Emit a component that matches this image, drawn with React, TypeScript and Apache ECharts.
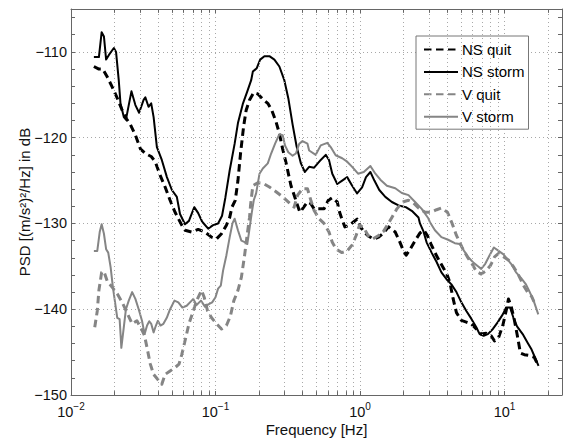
import React, { useEffect, useRef } from 'react';
import * as echarts from 'echarts';

// [frequency in Hz, PSD in dB]
const nsQuit: [number, number][] = [
  [0.0144, -111.7], [0.0156, -112.0], [0.0166, -112.0], [0.0178, -112.9], [0.0193, -114.1],
  [0.0209, -115.4], [0.0226, -116.8], [0.0242, -117.8], [0.0258, -118.5], [0.0279, -119.7],
  [0.0302, -121.3], [0.0327, -121.85], [0.0359, -122.2], [0.0383, -122.8], [0.0414, -124.4],
  [0.0448, -125.75], [0.0485, -127.3], [0.0525, -128.7], [0.0584, -130.2], [0.0615, -130.8],
  [0.0684, -131.0], [0.0759, -130.7], [0.0844, -131.0], [0.0939, -131.6], [0.1016, -131.8],
  [0.11, -131.2], [0.119, -130.2], [0.1254, -129.3], [0.13, -128.1], [0.137, -127.3],
  [0.143, -125.0], [0.149, -121.85], [0.1565, -118.7], [0.163, -116.8], [0.172, -115.6],
  [0.184, -114.75], [0.1963, -114.9], [0.2125, -115.5], [0.23, -116.0], [0.245, -116.8],
  [0.2624, -118.15], [0.2767, -119.5], [0.2915, -121.3], [0.3075, -122.9], [0.333, -125.6],
  [0.3565, -127.1], [0.3837, -128.7], [0.4, -128.3], [0.433, -127.5], [0.457, -127.7],
  [0.4814, -128.3], [0.5637, -128.3], [0.604, -127.3], [0.643, -127.0], [0.696, -127.5],
  [0.7227, -128.7], [0.753, -129.6], [0.786, -130.4], [0.847, -130.2], [0.906, -129.8],
  [0.955, -129.5], [1.008, -130.4], [1.079, -131.1], [1.15, -131.5], [1.245, -131.8],
  [1.346, -131.6], [1.4576, -131.1], [1.5776, -130.4], [1.754, -131.0], [1.869, -132.0],
  [2.0, -133.2], [2.087, -133.7], [2.223, -133.0], [2.406, -132.0], [2.604, -131.1],
  [2.775, -130.8], [2.924, -131.4], [3.1, -132.4], [3.3, -133.4], [3.575, -134.5],
  [3.81, -135.3], [4.03, -136.1], [4.19, -136.9], [4.414, -138.8], [4.65, -140.4],
  [5.03, -141.3], [5.445, -141.5], [5.89, -141.7], [6.38, -142.3], [6.9, -142.9],
  [7.47, -142.8], [8.09, -143.1], [8.53, -143.7], [9.1, -143.3], [9.73, -141.9],
  [10.26, -140.2], [10.65, -138.8], [11.1, -139.6], [11.72, -141.3], [12.34, -143.3],
  [12.88, -145.1], [13.72, -145.3], [14.85, -145.4], [16.07, -145.6], [16.94, -146.4],
];

const nsStorm: [number, number][] = [
  [0.0144, -110.6], [0.0156, -110.6], [0.0163, -107.7], [0.0169, -108.2], [0.0175, -110.9],
  [0.0183, -110.35], [0.0198, -109.55], [0.0205, -110.0], [0.0214, -113.3], [0.022, -116.0],
  [0.0232, -117.6], [0.024, -117.9], [0.0251, -116.2], [0.0262, -114.6], [0.0279, -116.2],
  [0.0296, -117.1], [0.0318, -115.6], [0.0327, -115.3], [0.0344, -116.4], [0.0359, -116.0],
  [0.0373, -117.6], [0.0393, -121.1], [0.0425, -122.6], [0.0461, -124.6], [0.0499, -126.1],
  [0.054, -126.9], [0.0568, -128.9], [0.0615, -130.1], [0.0655, -129.7], [0.0713, -128.1],
  [0.0759, -128.8], [0.0809, -129.8], [0.089, -130.6], [0.0963, -130.2], [0.1042, -130.0],
  [0.111, -129.1], [0.117, -127.0], [0.1254, -123.8], [0.1357, -120.7], [0.143, -118.3],
  [0.155, -116.0], [0.166, -114.6], [0.1766, -113.3], [0.1813, -112.3], [0.193, -111.9],
  [0.2037, -110.9], [0.218, -110.5], [0.236, -110.5], [0.2556, -110.9], [0.2767, -111.7],
  [0.2994, -113.3], [0.319, -115.4], [0.342, -118.5], [0.364, -121.0], [0.39, -123.0],
  [0.4155, -124.0], [0.4447, -123.4], [0.4814, -123.5], [0.535, -122.6], [0.5794, -122.0],
  [0.61, -122.6], [0.643, -124.2], [0.696, -125.4], [0.753, -125.0], [0.815, -124.6],
  [0.883, -125.6], [0.955, -126.5], [1.034, -125.8], [1.1, -124.6], [1.18, -124.0],
  [1.2575, -125.0], [1.36, -126.1], [1.497, -126.9], [1.662, -127.5], [1.848, -127.9],
  [2.075, -128.1], [2.31, -128.6], [2.54, -129.3], [2.6, -130.0], [2.745, -130.9],
  [2.89, -132.2], [3.13, -133.4], [3.39, -134.5], [3.66, -135.7], [3.97, -136.5],
  [4.29, -137.1], [4.65, -138.0], [5.03, -139.2], [5.445, -140.2], [5.89, -141.1],
  [6.38, -142.1], [6.73, -142.9], [7.17, -143.1], [7.67, -142.9], [8.31, -142.3],
  [8.99, -141.5], [9.73, -140.6], [10.26, -139.8], [10.93, -139.8], [11.53, -141.0],
  [12.21, -142.0], [13.36, -142.9], [14.45, -143.9], [15.4, -144.7], [16.23, -145.6],
  [17.2, -146.6],
];

const vQuit: [number, number][] = [
  [0.0146, -142.1], [0.0152, -140.2], [0.0156, -137.8], [0.0163, -135.7], [0.0169, -135.6],
  [0.0178, -136.7], [0.0193, -137.45], [0.0209, -138.2], [0.0226, -139.2], [0.0244, -140.4],
  [0.0265, -141.7], [0.0286, -141.35], [0.0307, -142.3], [0.0323, -143.1], [0.0336, -144.5],
  [0.0354, -146.4], [0.0373, -147.6], [0.0399, -148.2], [0.0425, -148.75], [0.0448, -147.6],
  [0.0485, -147.2], [0.0525, -146.8], [0.0559, -146.4], [0.0584, -145.3], [0.0615, -143.7],
  [0.0655, -141.7], [0.0702, -140.2], [0.074, -139.0], [0.0801, -137.8], [0.0835, -138.6],
  [0.0881, -140.2], [0.0939, -141.0], [0.1016, -141.7], [0.11, -142.3], [0.119, -141.9],
  [0.1268, -140.8], [0.134, -139.0], [0.143, -137.8], [0.151, -136.3], [0.159, -133.7],
  [0.166, -131.2], [0.172, -129.3], [0.175, -127.8], [0.1813, -125.6], [0.1963, -125.25],
  [0.2125, -125.3], [0.236, -125.75], [0.2624, -126.3], [0.2915, -126.9], [0.324, -127.6],
  [0.35, -128.1], [0.37, -126.7], [0.4, -125.95], [0.433, -125.95], [0.457, -127.3],
  [0.4814, -128.5], [0.521, -129.45], [0.5637, -130.0], [0.61, -131.0], [0.643, -132.2],
  [0.685, -133.0], [0.746, -133.4], [0.815, -133.2], [0.883, -132.5], [0.94, -131.4],
  [0.992, -130.2], [1.062, -130.5], [1.137, -131.4], [1.225, -131.8], [1.346, -131.4],
  [1.4576, -130.9], [1.56, -130.1], [1.662, -129.3], [1.8, -128.3], [1.968, -127.5],
  [2.166, -127.3], [2.344, -127.6], [2.54, -128.2], [2.82, -128.7], [3.1, -128.7],
  [3.39, -128.4], [3.66, -128.2], [4.03, -128.7], [4.34, -130.0], [4.65, -131.4],
  [5.09, -132.8], [5.53, -133.9], [5.96, -134.7], [6.38, -135.6], [6.9, -135.9],
  [7.47, -135.5], [8.0, -134.9], [8.53, -133.9], [9.1, -133.5], [9.89, -133.9],
  [10.7, -134.3], [11.6, -135.1], [12.48, -136.0], [13.57, -137.25], [14.45, -138.0],
  [15.4, -138.5], [16.07, -139.2],
];

const vStorm: [number, number][] = [
  [0.0144, -133.2], [0.0152, -133.2], [0.0158, -131.0], [0.0163, -130.1], [0.0169, -131.2],
  [0.0175, -133.0], [0.0181, -133.4], [0.0188, -135.1], [0.0195, -137.45], [0.0201, -139.0],
  [0.0209, -141.0], [0.0217, -141.15], [0.0221, -143.3], [0.0223, -144.5], [0.0232, -142.1],
  [0.024, -140.0], [0.0251, -139.0], [0.0265, -138.0], [0.0279, -138.8], [0.0294, -140.0],
  [0.031, -141.35], [0.0323, -142.9], [0.0336, -141.9], [0.0348, -141.4], [0.0359, -141.7],
  [0.0373, -142.7], [0.0387, -141.9], [0.0399, -141.35], [0.0416, -141.9], [0.0436, -141.7],
  [0.046, -141.0], [0.0485, -140.0], [0.052, -139.0], [0.0553, -139.2], [0.059, -139.8],
  [0.0632, -139.6], [0.0684, -139.0], [0.0702, -138.8], [0.074, -139.5], [0.0793, -139.0],
  [0.0845, -139.7], [0.09, -139.4], [0.0948, -139.2], [0.1, -138.6], [0.1042, -137.6],
  [0.1088, -137.25], [0.1128, -135.5], [0.119, -133.7], [0.1254, -131.6], [0.131, -130.0],
  [0.1357, -129.45], [0.143, -130.8], [0.151, -132.0], [0.1607, -132.2], [0.166, -132.4],
  [0.172, -130.6], [0.1784, -128.7], [0.184, -127.3], [0.191, -126.5], [0.2016, -124.2],
  [0.2125, -123.6], [0.23, -123.0], [0.2427, -121.85], [0.2585, -120.7], [0.2767, -119.6],
  [0.2915, -119.7], [0.3027, -120.9], [0.319, -121.7], [0.3416, -122.1], [0.36, -121.85],
  [0.38, -120.7], [0.4, -120.4], [0.433, -120.7], [0.4447, -121.5], [0.494, -122.0],
  [0.535, -120.9], [0.594, -120.6], [0.627, -121.1], [0.6786, -122.05], [0.753, -122.4],
  [0.815, -122.8], [0.883, -123.4], [0.97, -124.2], [1.062, -124.0], [1.18, -123.3],
  [1.278, -124.2], [1.383, -124.9], [1.535, -125.6], [1.754, -125.9], [1.947, -126.45],
  [2.166, -126.7], [2.406, -127.5], [2.672, -128.3], [2.97, -129.4], [3.05, -129.85],
  [3.3, -130.8], [3.66, -131.6], [4.07, -131.9], [4.53, -132.3], [4.9, -132.4],
  [5.25, -133.2], [5.66, -134.0], [6.12, -134.6], [6.55, -135.0], [6.9, -135.3],
  [7.36, -134.7], [7.89, -133.7], [8.44, -132.8], [9.1, -133.2], [9.84, -133.6],
  [10.54, -134.25], [11.22, -134.8], [12.02, -135.7], [13.0, -136.35], [14.08, -137.1],
  [14.85, -137.9], [15.9, -139.0], [17.13, -140.6],
];

const seriesNames = ['NS quit', 'NS storm', 'V quit', 'V storm'];
const xMin = 0.01;
const xMax = 25;
const yMin = -150;
const yMax = -105;
const xMinorGrid = [
  0.02, 0.03, 0.04, 0.05, 0.06, 0.07, 0.08, 0.09,
  0.2, 0.3, 0.4, 0.5, 0.6, 0.7, 0.8, 0.9,
  2, 3, 4, 5, 6, 7, 8, 9, 20,
];

const FONT = '"Liberation Sans", Arial, Helvetica, sans-serif';
const BLACK = '#000000';
const GRAY = '#858585';
const AXIS = '#666666';
const GRID = '#a8a8a8';

function xLabel(v: number): string {
  const l = Math.log10(v);
  const e = Math.round(l);
  if (Math.abs(l - e) > 1e-6) return '';
  const exp = e < 0 ? '\u2212' + String(-e) : String(e);
  return '{b|10}{s|' + exp + '}';
}

function yLabel(v: number): string {
  if (Math.abs(v % 10) > 1e-6) return '';
  return String(v).replace('-', '\u2212');
}

export default function App() {
  const ref = useRef<HTMLDivElement>(null);

  useEffect(() => {
    if (!ref.current) return;
    const chart = echarts.init(ref.current, undefined, { renderer: 'svg' });

    const lineSeries = (name: string, data: [number, number][], color: string, width: number, dashed: boolean) => ({
      name,
      type: 'line',
      data,
      symbol: 'none',
      showSymbol: false,
      z: 3,
      lineStyle: { color, width, type: dashed ? [7.5, 4.5] : 'solid', cap: 'butt', join: 'round' },
      itemStyle: { color },
      emphasis: { disabled: true },
      silent: true,
    });

    const tickSegs: any[] = [];
    xMinorGrid.forEach((v) => {
      tickSegs.push([{ coord: [v, yMin] }, { coord: [v, yMin + 0.45] }]);
      tickSegs.push([{ coord: [v, yMax] }, { coord: [v, yMax - 0.45] }]);
    });

    const option: any = {
      animation: false,
      backgroundColor: '#ffffff',
      textStyle: { fontFamily: FONT },
      grid: { left: 71, top: 9, right: 2, bottom: 48, containLabel: false },
      legend: {
        data: seriesNames,
        orient: 'vertical',
        left: 416,
        top: 36,
        itemWidth: 34,
        itemHeight: 15,
        itemGap: 7.4,
        padding: [6, 4, 5, 7],
        backgroundColor: '#ffffff',
        borderColor: '#777777',
        borderWidth: 1,
        borderRadius: 0,
        itemStyle: { opacity: 0 },
        textStyle: { fontFamily: FONT, fontSize: 15, color: '#000000', padding: [0, 0, 0, -1] },
        selectedMode: false,
      },
      xAxis: [
        {
          type: 'log',
          logBase: 10,
          min: xMin,
          max: xMax,
          position: 'bottom',
          name: 'Frequency [Hz]',
          nameLocation: 'middle',
          nameGap: 27,
          nameMoveOverlap: false,
          nameTextStyle: { fontFamily: FONT, fontSize: 15, color: '#111111' },
          axisLine: { show: true, onZero: false, lineStyle: { color: AXIS, width: 1 } },
          axisTick: { show: true, inside: true, length: 4, lineStyle: { color: AXIS } },
          axisLabel: {
            show: true,
            margin: 6,
            formatter: xLabel,
            rich: {
              b: { fontFamily: FONT, fontSize: 14.5, color: '#111111', lineHeight: 22, verticalAlign: 'middle' },
              s: { fontFamily: FONT, fontSize: 10, color: '#111111', lineHeight: 8, verticalAlign: 'top' },
            },
          },
          splitLine: { show: true, lineStyle: { color: GRID, type: [1, 3], width: 1 } },
        },
        {
          type: 'log',
          logBase: 10,
          min: xMin,
          max: xMax,
          position: 'top',
          axisLine: { show: true, onZero: false, lineStyle: { color: AXIS, width: 1 } },
          axisTick: { show: true, inside: true, length: 4, lineStyle: { color: AXIS } },
          axisLabel: { show: false },
          splitLine: { show: false },
        },
      ],
      yAxis: [
        {
          type: 'value',
          min: yMin,
          max: yMax,
          interval: 10,
          position: 'left',
          name: 'PSD [(m/s\u00b2)\u00b2/Hz] in dB',
          nameLocation: 'middle',
          nameGap: 39,
          nameMoveOverlap: false,
          nameTextStyle: { fontFamily: FONT, fontSize: 15, color: '#111111' },
          axisLine: { show: true, onZero: false, lineStyle: { color: AXIS, width: 1 } },
          axisTick: { show: false },
          axisLabel: { show: true, margin: 4, formatter: yLabel, fontFamily: FONT, fontSize: 14.5, color: '#111111' },
          splitLine: { show: true, lineStyle: { color: GRID, type: [1, 3], width: 1 } },
        },
        {
          type: 'value',
          min: yMin,
          max: yMax,
          interval: 2,
          position: 'right',
          axisLine: { show: true, onZero: false, lineStyle: { color: AXIS, width: 1 } },
          axisTick: { show: true, inside: true, length: 4, lineStyle: { color: AXIS } },
          axisLabel: { show: false },
          splitLine: { show: false },
        },
        {
          type: 'value',
          min: yMin,
          max: yMax,
          interval: 2,
          position: 'left',
          axisLine: { show: false },
          axisTick: { show: true, inside: true, length: 4, lineStyle: { color: AXIS } },
          axisLabel: { show: false },
          splitLine: { show: false },
        },
      ],
      series: [
        {
          type: 'line',
          data: [],
          silent: true,
          z: 1,
          markLine: {
            silent: true,
            animation: false,
            symbol: ['none', 'none'],
            label: { show: false },
            lineStyle: { color: GRID, type: [1, 3], width: 1 },
            emphasis: { disabled: true },
            data: xMinorGrid.map((v) => ({ xAxis: v })),
          },
        },
        {
          type: 'line',
          data: [],
          silent: true,
          z: 2,
          markLine: {
            silent: true,
            animation: false,
            symbol: ['none', 'none'],
            label: { show: false },
            lineStyle: { color: AXIS, type: 'solid', width: 1 },
            emphasis: { disabled: true },
            data: tickSegs,
          },
        },
        lineSeries(seriesNames[0], nsQuit, BLACK, 3, true),
        lineSeries(seriesNames[1], nsStorm, BLACK, 2, false),
        lineSeries(seriesNames[2], vQuit, GRAY, 3, true),
        lineSeries(seriesNames[3], vStorm, GRAY, 2, false),
      ],
    };

    chart.setOption(option);
    return () => {
      chart.dispose();
    };
  }, []);

  return (
    <div
      ref={ref}
      style={{ position: 'fixed', left: 0, top: 0, width: 565, height: 443, background: '#ffffff' }}
    />
  );
}
